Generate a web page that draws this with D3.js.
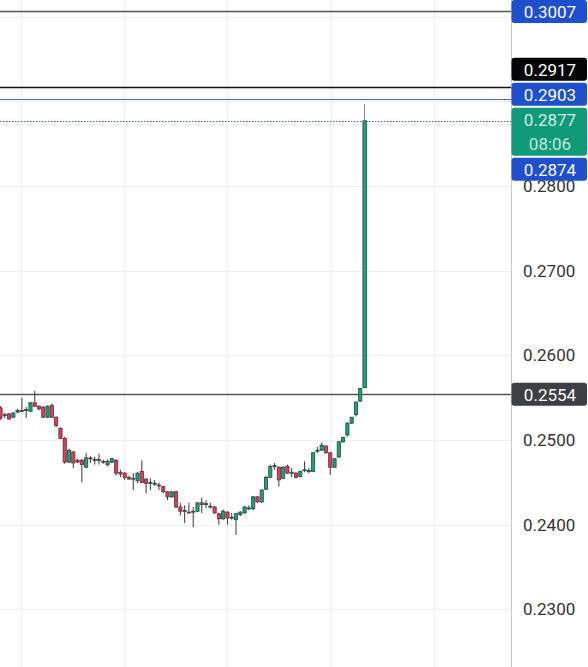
<!DOCTYPE html>
<html>
<head>
<meta charset="utf-8">
<script src="https://cdn.jsdelivr.net/npm/d3@7"></script>
<style>
  html, body { margin: 0; padding: 0; background: #fff; }
  svg { display: block; font-family: Roboto, "Noto Sans", sans-serif; }
</style>
</head>
<body>
<div id="chart"></div>
<script>
// candle data, oldest first
var candleOpen = [
  0.2538, 0.2530, 0.2531, 0.2527, 0.2533, 0.2535, 0.2535, 0.2534, 0.2544, 0.2540,
  0.2539, 0.2527, 0.2541, 0.2527, 0.2514, 0.2502, 0.2474, 0.2486, 0.2476, 0.2476,
  0.2468, 0.2479, 0.2476, 0.2477, 0.2475, 0.2471, 0.2474, 0.2476, 0.2462, 0.2461,
  0.2456, 0.2454, 0.2452, 0.2463, 0.2454, 0.2449, 0.2448, 0.2447, 0.2445, 0.2439,
  0.2433, 0.2439, 0.2421, 0.2416, 0.2415, 0.2415, 0.2416, 0.2426, 0.2424, 0.2422,
  0.2421, 0.2413, 0.2407, 0.2415, 0.2409, 0.2406, 0.2412, 0.2414, 0.2420, 0.2419,
  0.2433, 0.2427, 0.2442, 0.2456, 0.2469, 0.2468, 0.2455, 0.2469, 0.2461, 0.2461,
  0.2457, 0.2464, 0.2463, 0.2463, 0.2487, 0.2488, 0.2493, 0.2485, 0.2468, 0.2480,
  0.2498, 0.2506, 0.2520, 0.2530, 0.2546, 0.2562
];
var candleHigh = [
  0.2540, 0.2532, 0.2532, 0.2533, 0.2537, 0.2550, 0.2539, 0.2545, 0.2558, 0.2541,
  0.2540, 0.2541, 0.2543, 0.2528, 0.2515, 0.2504, 0.2490, 0.2487, 0.2478, 0.2478,
  0.2485, 0.2481, 0.2480, 0.2484, 0.2477, 0.2477, 0.2479, 0.2478, 0.2465, 0.2462,
  0.2458, 0.2461, 0.2462, 0.2476, 0.2455, 0.2455, 0.2453, 0.2450, 0.2446, 0.2440,
  0.2440, 0.2440, 0.2426, 0.2423, 0.2426, 0.2421, 0.2426, 0.2432, 0.2429, 0.2426,
  0.2422, 0.2414, 0.2418, 0.2416, 0.2414, 0.2414, 0.2416, 0.2422, 0.2423, 0.2434,
  0.2434, 0.2442, 0.2458, 0.2471, 0.2473, 0.2469, 0.2469, 0.2471, 0.2467, 0.2462,
  0.2464, 0.2475, 0.2467, 0.2486, 0.2492, 0.2497, 0.2494, 0.2486, 0.2479, 0.2499,
  0.2504, 0.2521, 0.2527, 0.2545, 0.2561, 0.2897
];
var candleLow = [
  0.2524, 0.2526, 0.2524, 0.2526, 0.2532, 0.2533, 0.2526, 0.2533, 0.2539, 0.2535,
  0.2526, 0.2526, 0.2526, 0.2515, 0.2501, 0.2472, 0.2473, 0.2467, 0.2473, 0.2450,
  0.2467, 0.2473, 0.2471, 0.2471, 0.2472, 0.2469, 0.2473, 0.2458, 0.2456, 0.2453,
  0.2453, 0.2441, 0.2449, 0.2449, 0.2437, 0.2441, 0.2446, 0.2441, 0.2437, 0.2429,
  0.2432, 0.2420, 0.2411, 0.2402, 0.2414, 0.2397, 0.2415, 0.2414, 0.2420, 0.2419,
  0.2413, 0.2400, 0.2406, 0.2400, 0.2406, 0.2388, 0.2410, 0.2413, 0.2417, 0.2417,
  0.2426, 0.2426, 0.2441, 0.2455, 0.2465, 0.2445, 0.2454, 0.2460, 0.2456, 0.2455,
  0.2456, 0.2462, 0.2461, 0.2462, 0.2485, 0.2487, 0.2484, 0.2459, 0.2467, 0.2479,
  0.2497, 0.2504, 0.2519, 0.2528, 0.2545, 0.2561
];
var candleClose = [
  0.2526, 0.2529, 0.2525, 0.2532, 0.2535, 0.2534, 0.2536, 0.2544, 0.2540, 0.2537,
  0.2527, 0.2540, 0.2527, 0.2517, 0.2502, 0.2474, 0.2488, 0.2473, 0.2474, 0.2471,
  0.2479, 0.2478, 0.2477, 0.2476, 0.2474, 0.2475, 0.2478, 0.2461, 0.2460, 0.2456,
  0.2454, 0.2455, 0.2461, 0.2450, 0.2449, 0.2450, 0.2449, 0.2446, 0.2439, 0.2433,
  0.2439, 0.2421, 0.2416, 0.2417, 0.2414, 0.2416, 0.2426, 0.2424, 0.2425, 0.2422,
  0.2414, 0.2407, 0.2416, 0.2408, 0.2409, 0.2413, 0.2415, 0.2421, 0.2420, 0.2433,
  0.2427, 0.2441, 0.2456, 0.2469, 0.2470, 0.2453, 0.2468, 0.2461, 0.2462, 0.2456,
  0.2463, 0.2465, 0.2464, 0.2485, 0.2488, 0.2494, 0.2485, 0.2468, 0.2478, 0.2498,
  0.2503, 0.2520, 0.2527, 0.2545, 0.2561, 0.2877
];

// price axis
var tickValues = [0.2300, 0.2400, 0.2500, 0.2600, 0.2700, 0.2800];
var gridValues = [0.2300, 0.2400, 0.2500, 0.2600, 0.2700, 0.2800, 0.2900, 0.3000];
// time grid, in candle index units
var timeGrid = [4.8, 28.9, 53, 77.1, 101.2];

// horizontal levels and their tags
var levelValues = [0.3007, 0.2917, 0.2903, 0.2554];
var levelKinds = ["grey", "black", "blue", "grey"];
var tagValues = [0.3007, 0.2917, 0.2903, 0.2877, 0.2874, 0.2554];
var tagKinds = ["blue", "black", "blue", "last", "blue", "grey"];
var lastPrice = 0.2877;
var countdown = "08:06";

var W = 588, H = 667, axisX = 511;

var y = d3.scaleLinear().domain([0.22321, 0.30196]).range([H, 0]);
var x = d3.scaleLinear().domain([0, candleOpen.length - 1]).range([0.5, 364.5]);

var svg = d3.select("#chart").append("svg")
    .attr("width", W)
    .attr("height", H);

// grid
svg.append("g").selectAll("line")
    .data(gridValues)
    .enter().append("line")
        .attr("x1", 0).attr("x2", axisX)
        .attr("y1", function(d) { return Math.round(y(d)) + 0.5; })
        .attr("y2", function(d) { return Math.round(y(d)) + 0.5; })
        .attr("stroke", "#eeeeee");

svg.append("g").selectAll("line")
    .data(timeGrid)
    .enter().append("line")
        .attr("x1", function(d) { return Math.round(x(d)) + 0.5; })
        .attr("x2", function(d) { return Math.round(x(d)) + 0.5; })
        .attr("y1", 0).attr("y2", H)
        .attr("stroke", "#eeeeee");

// axis line + tick labels
svg.append("line")
    .attr("x1", axisX + 0.5).attr("x2", axisX + 0.5)
    .attr("y1", 0).attr("y2", H)
    .attr("stroke", "#c8c8c8");

var axis = svg.append("g")
    .attr("transform", "translate(" + axisX + ",0)")
    .call(d3.axisRight(y).tickValues(tickValues).tickFormat(d3.format(".4f")).tickSize(0).tickPadding(12));
axis.select(".domain").remove();
axis.selectAll("text")
    .attr("fill", "#333")
    .style("font-size", "17px")
    .style("font-family", "Roboto, sans-serif");

// level lines
var lineColor = { grey: "#555", black: "#111", blue: "#4a6cc8" };
svg.append("g").selectAll("line")
    .data(levelValues)
    .enter().append("line")
        .attr("x1", 0).attr("x2", axisX)
        .attr("y1", function(d) { return Math.round(y(d)) + 0.5; })
        .attr("y2", function(d) { return Math.round(y(d)) + 0.5; })
        .attr("stroke", function(d, i) { return lineColor[levelKinds[i]]; })
        .attr("stroke-width", function(d, i) { return levelKinds[i] == "blue" ? 1 : 1.3; });

// last price dotted line
svg.append("line")
    .attr("x1", 0).attr("x2", axisX)
    .attr("y1", Math.round(y(lastPrice)) + 0.5)
    .attr("y2", Math.round(y(lastPrice)) + 0.5)
    .attr("stroke", "#2f6f8a")
    .attr("stroke-dasharray", "1.5,1.5");

// candles
var idx = d3.range(candleOpen.length);
var bw = 3.2;
var c = svg.append("g").selectAll("g")
    .data(idx)
    .enter().append("g");

c.append("line")
    .attr("x1", function(i) { return x(i); })
    .attr("x2", function(i) { return x(i); })
    .attr("y1", function(i) { return y(candleHigh[i]); })
    .attr("y2", function(i) { return y(candleLow[i]); })
    .attr("stroke", function(i) { return i == idx.length - 1 ? "#888" : "#3a3a3a"; })
    .attr("stroke-width", 1);

c.append("rect")
    .attr("x", function(i) { return x(i) - bw / 2; })
    .attr("width", function(i) { return i == idx.length - 1 ? 3.8 : bw; })
    .attr("y", function(i) { return y(Math.max(candleOpen[i], candleClose[i])); })
    .attr("height", function(i) { return Math.max(1, Math.abs(y(candleOpen[i]) - y(candleClose[i]))); })
    .attr("fill", function(i) { return candleClose[i] >= candleOpen[i] ? "#2b9a7b" : "#c9465f"; })
    .attr("stroke", function(i) { return candleClose[i] >= candleOpen[i] ? "#1f4d42" : "#6e2a38"; })
    .attr("stroke-width", 0.8);

// price tags, stacked around the last price tag
var tagH = 23, gap = 2, lastH = 48;
var tags = tagValues.map(function(v, i) {
    return { v: v, kind: tagKinds[i], h: tagKinds[i] == "last" ? lastH : tagH };
});
tags.forEach(function(t) {
    t.top = t.kind == "last" ? y(t.v) - 13 : y(t.v) - t.h / 2;
});
var li = tags.findIndex(function(t) { return t.kind == "last"; });
for (var k = li - 1; k >= 0; k--) {
    var lim = tags[k + 1].top - gap - tags[k].h;
    if (tags[k].top > lim) tags[k].top = lim;
}
for (var k = li + 1; k < tags.length; k++) {
    var lim = tags[k - 1].top + tags[k - 1].h + gap;
    if (tags[k].top < lim) tags[k].top = lim;
}
tags.forEach(function(t) { if (t.top < 0) t.top = 0; });

var tagFill = { blue: "#1f4fcc", black: "#050505", last: "#119a78", grey: "#3c3f46" };
var tg = svg.append("g").selectAll("g")
    .data(tags)
    .enter().append("g");

tg.append("rect")
    .attr("x", axisX + 0.5)
    .attr("y", function(d) { return d.top; })
    .attr("width", W - axisX - 1.5)
    .attr("height", function(d) { return d.h; })
    .attr("rx", 3)
    .attr("fill", function(d) { return tagFill[d.kind]; });

tg.append("text")
    .attr("x", 550)
    .attr("y", function(d) { return d.top + 12; })
    .attr("dy", "0.35em")
    .attr("text-anchor", "middle")
    .style("font-size", "17px")
    .attr("fill", function(d) { return d.kind == "last" ? "#d4f7ea" : "#fff"; })
    .text(function(d) { return d3.format(".4f")(d.v); });

tg.filter(function(d) { return d.kind == "last"; })
    .append("text")
    .attr("x", 550)
    .attr("y", function(d) { return d.top + 36; })
    .attr("dy", "0.35em")
    .attr("text-anchor", "middle")
    .style("font-size", "17px")
    .attr("fill", "#bfeedd")
    .text(countdown);
</script>
</body>
</html>
